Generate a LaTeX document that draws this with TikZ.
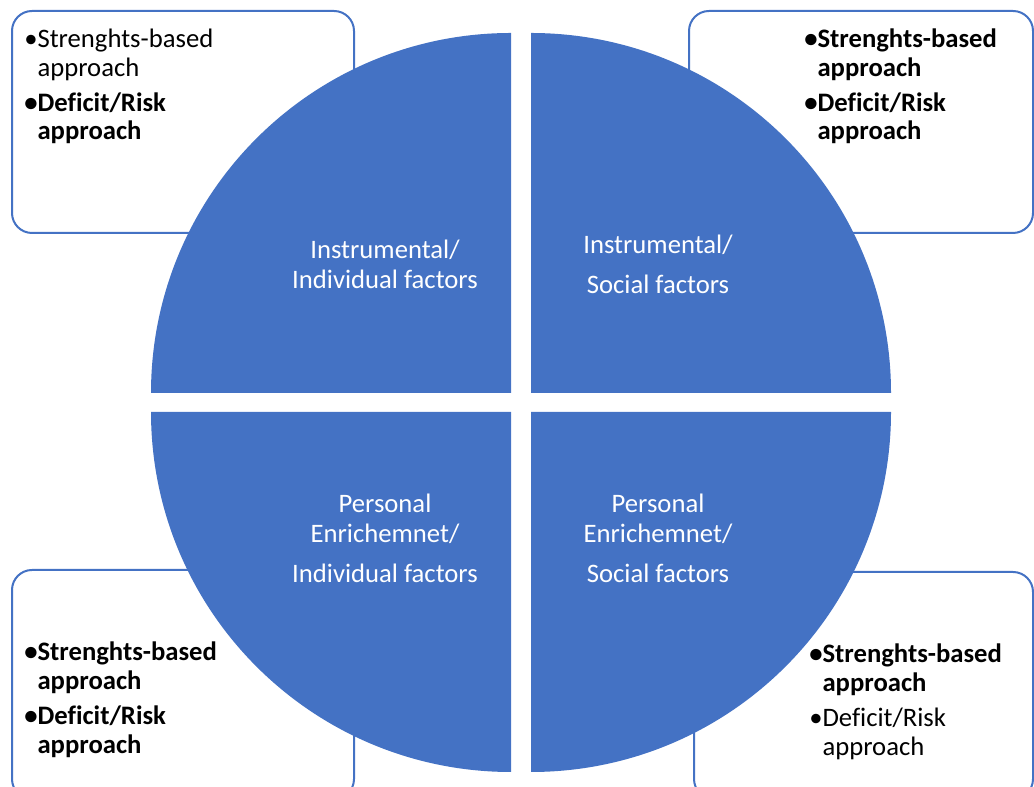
\documentclass[tikz,border=0pt]{standalone}
\usepackage{fontspec}
\setmainfont[Ligatures=NoCommon]{Carlito}
\definecolor{offblue}{HTML}{4472C4}
\begin{document}
\begin{tikzpicture}[x=0.75pt,y=0.75pt,
  quad/.style={fill=offblue,draw=none},
  box/.style={draw=offblue,line width=1.5pt,fill=white,rounded corners=15pt},
  boxtext/.style={anchor=base west,inner sep=0pt,text=black,font=\fontsize{20}{21.4}\selectfont},
  quadtext/.style={anchor=base,inner sep=0pt,text=white,font=\fontsize{20}{22.5}\selectfont}]
\useasboundingbox (0,0) rectangle (1034,787);
\begin{scope}
\clip (0,0) rectangle (1034,787);
% side boxes
\draw[box] (12,554) rectangle (354,776);
\draw[box] (689,554) rectangle (1033,776);
\draw[box] (12,-12) rectangle (354,217);
\draw[box] (694,-12) rectangle (1033,215);
% quadrants
\fill[quad] (511,394) -- ++(-360,0) arc[start angle=180,end angle=90,radius=360] -- cycle;
\fill[quad] (531,394) -- ++(0,360) arc[start angle=90,end angle=0,radius=360] -- cycle;
\fill[quad] (511,375) -- ++(-360,0) arc[start angle=180,end angle=270,radius=360] -- cycle;
\fill[quad] (531,375) -- ++(360,0) arc[start angle=0,end angle=-90,radius=360] -- cycle;
\end{scope}
% quadrant labels
\node[quadtext] (q1) at (385,528) {\begin{tabular}[t]{@{}c@{}}Instrumental/\\Individual factors\end{tabular}};
\node[quadtext] (q2) at (658,533) {\begin{tabular}[t]{@{}c@{}}Instrumental/\\[7.5pt]Social factors\end{tabular}};
\node[quadtext] (q3) at (385,274) {\begin{tabular}[t]{@{}c@{}}Personal\\Enrichemnet/\\[7.5pt]Individual factors\end{tabular}};
\node[quadtext] (q4) at (658,274) {\begin{tabular}[t]{@{}c@{}}Personal\\Enrichemnet/\\[7.5pt]Social factors\end{tabular}};
% box texts
\node[boxtext] (b1) at (24,739) {\begin{tabular}[t]{@{}l@{}l@{}}•&Strenghts-based\\&approach\\[4.5pt]\textbf{•}&\textbf{Deficit/Risk}\\&\textbf{approach}\end{tabular}};
\node[boxtext] (b2) at (804,739) {\bfseries\begin{tabular}[t]{@{}l@{}l@{}}•&Strenghts-based\\&approach\\[4.5pt]•&Deficit/Risk\\&approach\end{tabular}};
\node[boxtext] (b3) at (24,126) {\bfseries\begin{tabular}[t]{@{}l@{}l@{}}•&Strenghts-based\\&approach\\[5pt]•&Deficit/Risk\\&approach\end{tabular}};
\node[boxtext] (b4) at (809,124) {\begin{tabular}[t]{@{}l@{}l@{}}\textbf{•}&\textbf{Strenghts-based}\\&\textbf{approach}\\[5pt]•&Deficit/Risk\\&approach\end{tabular}};
\end{tikzpicture}
\end{document}
